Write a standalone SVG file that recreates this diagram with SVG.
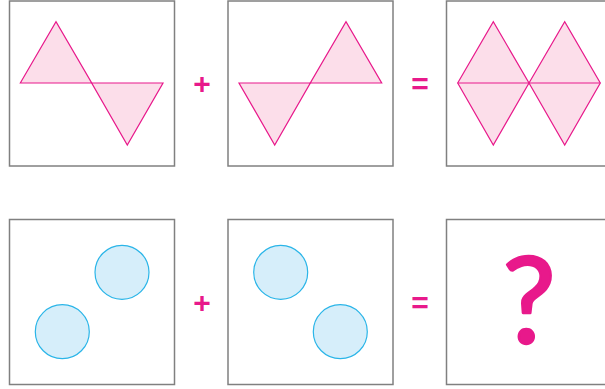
<svg xmlns="http://www.w3.org/2000/svg" width="605" height="389" viewBox="0 0 605 389">
<style>
.box{fill:#fff;stroke:#808080;stroke-width:1.5}
.tri{fill:#FCDEEA;stroke:#E8198B;stroke-width:1.2;stroke-linejoin:miter}
.cir{fill:#D6EEFA;stroke:#2AB5E8;stroke-width:1.2}
.op{fill:#E8198B;font-family:"Liberation Sans",Arial,sans-serif;font-weight:bold;font-size:30px;text-anchor:middle}
.q{fill:#E8198B;stroke:#E8198B;stroke-width:2.5;stroke-linejoin:round;font-family:Lato,"Liberation Sans",sans-serif;font-weight:normal;font-size:120px;text-anchor:middle}
</style>
<rect width="605" height="389" fill="#fff"/>
<g id="box-top-1">
<rect class="box" x="9.5" y="1" width="165" height="165"/>
<polygon class="tri" points="20.3,83 56,21.7 91.7,83"/>
<polygon class="tri" points="91.7,83 163,83 127.3,145"/>
</g>
<g id="box-top-2">
<rect class="box" x="228" y="1" width="165" height="165"/>
<polygon class="tri" points="239,83 310.3,83 274.7,145"/>
<polygon class="tri" points="310.3,83 381.7,83 346,21.7"/>
</g>
<g id="box-top-3">
<rect class="box" x="446.5" y="1" width="165" height="165"/>
<polygon class="tri" points="457.7,83 493.3,21.7 529,83 493.3,145"/>
<polygon class="tri" points="529,83 564.7,21.7 600.3,83 564.7,145"/>
<line x1="457.7" y1="83" x2="600.3" y2="83" stroke="#E8198B" stroke-width="1.2"/>
</g>
<g id="box-bottom-1">
<rect class="box" x="9.5" y="219.5" width="165" height="165"/>
<circle class="cir" cx="122" cy="272.3" r="27"/>
<circle class="cir" cx="62.3" cy="331.7" r="27"/>
</g>
<g id="box-bottom-2">
<rect class="box" x="228" y="219.5" width="165" height="165"/>
<circle class="cir" cx="280.7" cy="272.3" r="27"/>
<circle class="cir" cx="340.3" cy="331.7" r="27"/>
</g>
<g id="box-bottom-3">
<rect class="box" x="446.5" y="219.5" width="165" height="165"/>
<text class="q" x="529" y="343">?</text>
</g>
<g id="operators">
<text class="op" x="202" y="94">+</text>
<text class="op" x="420" y="93.5">=</text>
<text class="op" x="202" y="313">+</text>
<text class="op" x="420" y="312.5">=</text>
</g>
</svg>
